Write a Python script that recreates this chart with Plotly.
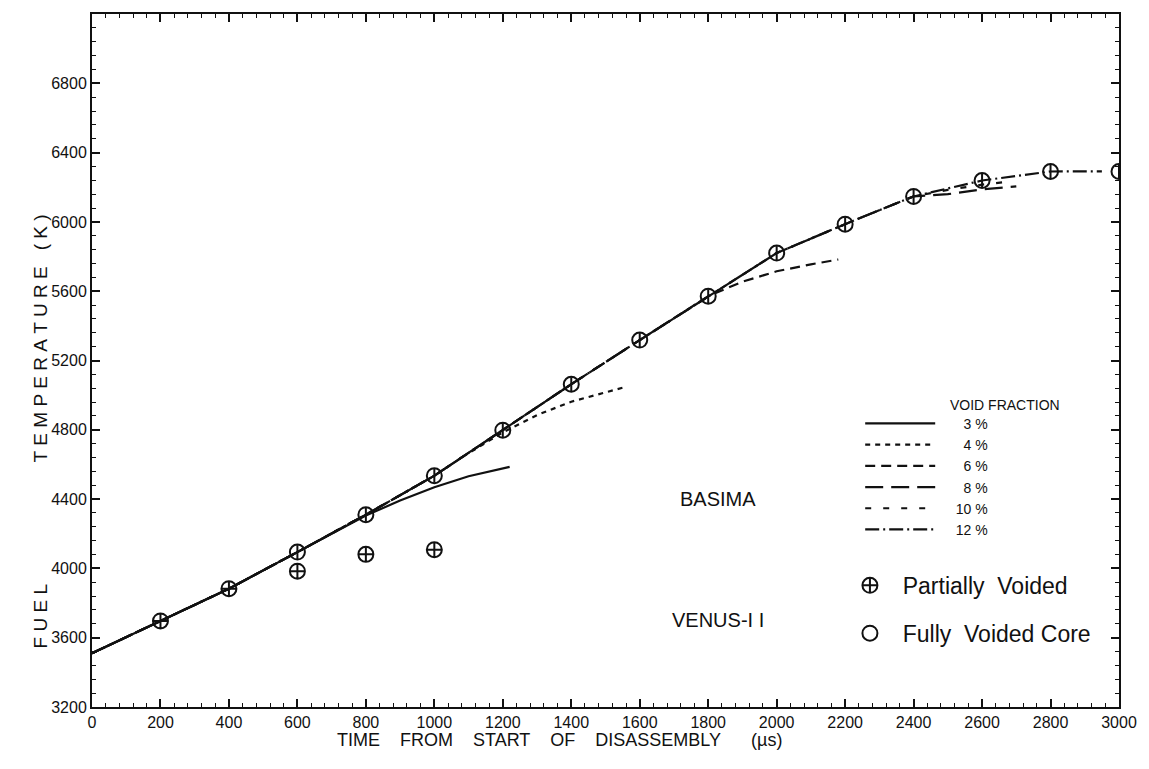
import plotly.graph_objects as go

# ---------------- data ----------------
# void-fraction curves (time in microseconds, fuel temperature in K)
vf3_t = [0, 200, 400, 600, 800, 900, 1000, 1100, 1200, 1220]
vf3_T = [3510, 3697, 3883, 4094, 4305, 4392, 4468, 4532, 4578, 4586]

vf4_t = [0, 200, 400, 600, 800, 1000, 1100, 1200, 1300, 1400, 1500, 1550]
vf4_T = [3510, 3697, 3883, 4094, 4310, 4535, 4665, 4785, 4885, 4962, 5018, 5043]

vf6_t = [0, 200, 400, 600, 800, 1000, 1200, 1400, 1600, 1800, 1900, 2000, 2100, 2180]
vf6_T = [3510, 3697, 3883, 4094, 4310, 4535, 4798, 5063, 5318, 5571, 5655, 5715, 5755, 5783]

vf8_t = [0, 200, 400, 600, 800, 1000, 1200, 1400, 1600, 1800, 2000, 2200, 2400, 2500, 2600, 2700]
vf8_T = [3510, 3697, 3883, 4094, 4310, 4535, 4798, 5063, 5318, 5571, 5820, 5987, 6147, 6160, 6188, 6205]

vf10_t = [0, 200, 400, 600, 800, 1000, 1200, 1400, 1600, 1800, 2000, 2200, 2400, 2500, 2600, 2660]
vf10_T = [3510, 3697, 3883, 4094, 4310, 4535, 4798, 5063, 5318, 5571, 5820, 5987, 6147, 6185, 6215, 6228]

vf12_t = [0, 200, 400, 600, 800, 1000, 1200, 1400, 1600, 1800, 2000, 2200, 2400, 2600, 2800, 2950]
vf12_T = [3510, 3697, 3883, 4094, 4310, 4535, 4798, 5063, 5318, 5571, 5820, 5987, 6147, 6239, 6291, 6292]

# VENUS-II points
partial_t = [200, 400, 600, 800, 1000]
partial_T = [3697, 3883, 3984, 4081, 4108]

fully_t = [600, 800, 1000, 1200, 1400, 1600, 1800, 2000, 2200, 2400, 2600, 2800, 3000]
fully_T = [4094, 4310, 4535, 4798, 5063, 5318, 5571, 5820, 5987, 6147, 6239, 6291, 6291]

x_ticks = list(range(0, 3001, 200))
y_ticks = list(range(3200, 6801, 400))
void_labels = ["3 %", "4 %", "6 %", "8 %", "10 %", "12 %"]

FONT = "Liberation Sans, Arial, sans-serif"
BLACK = "#111111"
NB = "\u00a0"


def spaced(word):
    return NB.join(word)


fig = go.Figure()

series = [vf3_t, vf4_t, vf6_t, vf8_t, vf10_t, vf12_t]
values = [vf3_T, vf4_T, vf6_T, vf8_T, vf10_T, vf12_T]
dashes = ["solid", "5px,5px", "10px,6px", "18px,8px", "6px,12px", "14px,4px,2px,4px"]

# draw longest first so the solid line sits on top
for i in reversed(range(len(void_labels))):
    lab = void_labels[i]
    pad = NB * (6 if len(lab) == 3 else 4)
    fig.add_trace(go.Scatter(
        x=series[i], y=values[i], mode="lines", name=pad + lab,
        line=dict(color=BLACK, width=2.2, dash=dashes[i]),
        legend="legend", legendrank=i + 1,
    ))

fig.add_trace(go.Scatter(
    x=partial_t, y=partial_T, mode="markers", name=NB * 2 + "Partially" + NB * 2 + "Voided",
    marker=dict(symbol="circle-cross-open", size=15, color=BLACK, line=dict(width=2, color=BLACK)),
    legend="legend2",
))
fig.add_trace(go.Scatter(
    x=fully_t, y=fully_T, mode="markers", name=NB * 2 + "Fully" + NB * 2 + "Voided" + NB + "Core",
    marker=dict(symbol="circle-open", size=15, color=BLACK, line=dict(width=2, color=BLACK)),
    legend="legend3",
))
fig.add_trace(go.Scatter(
    x=fully_t, y=fully_T, mode="markers", showlegend=False,
    marker=dict(symbol="line-ns-open", size=10, color=BLACK, line=dict(width=2, color=BLACK)),
))

axis_common = dict(
    showgrid=False, zeroline=False, showline=True, linecolor=BLACK, linewidth=2,
    mirror="ticks", ticks="inside", ticklen=8, tickwidth=1.5, tickcolor=BLACK,
    tickfont=dict(family=FONT, size=16, color=BLACK),
)

fig.update_xaxes(
    range=[0, 3000], tickmode="array", tickvals=x_ticks, ticktext=[str(v) for v in x_ticks],
    minor=dict(dtick=40, ticks="inside", ticklen=4, tickcolor=BLACK, tickwidth=1.2),
    **axis_common,
)
fig.update_yaxes(
    range=[3200, 7200], tickmode="array", tickvals=y_ticks, ticktext=[str(v) for v in y_ticks],
    minor=dict(dtick=80, ticks="inside", ticklen=4, tickcolor=BLACK, tickwidth=1.2),
    **axis_common,
)

y_title = spaced("FUEL") + NB * 23 + spaced("TEMPERATURE") + NB * 3 + "(" + NB + "K" + NB + ")"
x_title = "TIME" + NB * 4 + "FROM" + NB * 4 + "START" + NB * 4 + "OF" + NB * 4 + "DISASSEMBLY" + NB * 6 + "(µs)"

annotations = [
    dict(text="BASIMA", x=1830, y=4400, xref="x", yref="y", showarrow=False,
         font=dict(family=FONT, size=20, color=BLACK)),
    dict(text="VENUS-I I", x=1830, y=3700, xref="x", yref="y", showarrow=False,
         font=dict(family=FONT, size=20, color=BLACK)),
    dict(text="VOID FRACTION", x=2500, y=4944, xref="x", yref="y", xanchor="left",
         showarrow=False, font=dict(family=FONT, size=14, color=BLACK)),
    dict(text=x_title, x=1367, y=0, xref="x", yref="paper",
         yshift=-45, showarrow=False, font=dict(family=FONT, size=18, color=BLACK)),
    dict(text=y_title, x=0, y=4788,
         xref="paper", yref="y", xshift=-64, textangle=-90, showarrow=False,
         font=dict(family=FONT, size=19, color=BLACK)),
]

fig.update_layout(
    width=1149, height=769,
    margin=dict(l=92, r=22, t=12, b=62),
    paper_bgcolor="white", plot_bgcolor="white",
    showlegend=True,
    legend=dict(
        x=0.748, y=0.4317, xanchor="left", yanchor="top",
        bgcolor="rgba(0,0,0,0)", itemwidth=70, tracegroupgap=0,
        font=dict(family=FONT, size=14, color=BLACK),
        traceorder="normal",
    ),
    legend2=dict(
        x=0.738, y=0.1755, xanchor="left", yanchor="middle",
        bgcolor="rgba(0,0,0,0)", itemwidth=30,
        font=dict(family=FONT, size=23, color=BLACK),
    ),
    legend3=dict(
        x=0.738, y=0.1065, xanchor="left", yanchor="middle",
        bgcolor="rgba(0,0,0,0)", itemwidth=30,
        font=dict(family=FONT, size=23, color=BLACK),
    ),
    annotations=annotations,
)

fig.write_html("out.html")
